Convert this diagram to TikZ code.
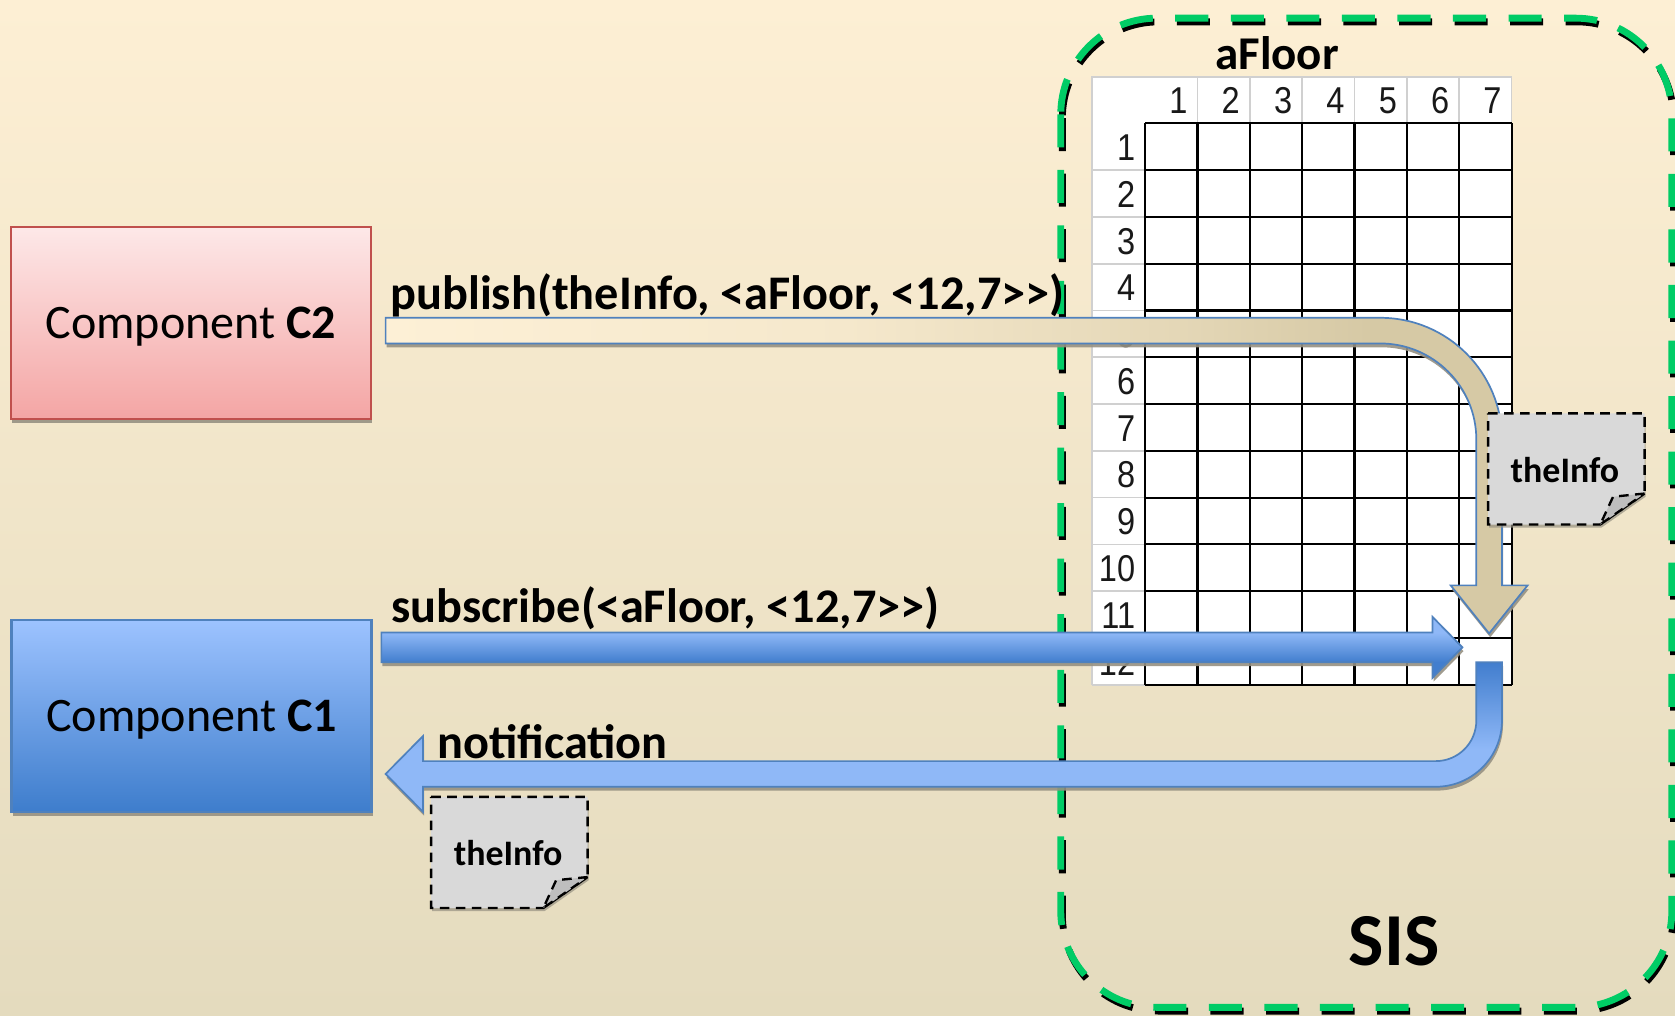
\documentclass[tikz,border=0pt]{standalone}
\usepackage{fontspec}
\setmainfont{Carlito}
\newfontfamily\gridfont[FakeStretch=0.87]{Liberation Sans}
\usetikzlibrary{shadows}

\definecolor{bgtop}{RGB}{253,239,212}
\definecolor{bgbot}{RGB}{228,219,190}
\definecolor{sisgreen}{RGB}{0,204,102}
\definecolor{redtop}{RGB}{253,232,232}
\definecolor{redbot}{RGB}{244,165,164}
\definecolor{redline}{RGB}{192,80,77}
\definecolor{bluetop}{RGB}{157,195,255}
\definecolor{bluebot}{RGB}{62,125,204}
\definecolor{blueline}{RGB}{79,129,189}
\definecolor{bluelight}{RGB}{143,184,247}
\definecolor{bluedark}{RGB}{66,126,206}
\definecolor{pubtan}{RGB}{214,201,165}
\definecolor{cream}{RGB}{253,240,214}
\definecolor{notegray}{RGB}{217,217,217}
\definecolor{flapgray}{RGB}{190,190,190}
\definecolor{hdrline}{RGB}{208,208,208}
\definecolor{shadowc}{RGB}{150,145,130}

% horizontal fade of the publish arrow: cream on the left, tan at the bend
\pgfdeclarehorizontalshading{pubfade}{100bp}{color(0bp)=(cream); color(25bp)=(cream); color(45bp)=(cream!80!pubtan); color(60bp)=(cream!35!pubtan); color(68bp)=(pubtan); color(100bp)=(pubtan)}
% vertical fade of the subscribe arrow (0bp = bottom)
\pgfdeclareverticalshading{subfade}{100bp}{color(0bp)=(bluedark); color(38bp)=(bluedark); color(62bp)=(bluelight); color(100bp)=(bluelight)}
% vertical fade of the notification arrow: dark stub on top, light band below
\pgfdeclareverticalshading{notiffade}{100bp}{color(0bp)=(bluelight); color(46bp)=(bluelight); color(75bp)=(bluedark); color(100bp)=(bluedark)}

\begin{document}
\begin{tikzpicture}[x=0.5pt,y=-0.5pt,
  comp/.style={draw, line width=1pt, minimum width=168.5pt, minimum height=90pt,
    inner sep=0pt, text height=14.6pt, text depth=0pt,
    font=\fontsize{22.5}{27}\selectfont,
    drop shadow={shadow xshift=0.5pt, shadow yshift=-1.8pt, fill=shadowc, opacity=0.9}},
  msg/.style={inner sep=0pt, font=\fontsize{22.6}{27}\selectfont\bfseries},
  notetxt/.style={inner sep=0pt, font=\fontsize{16.8}{20}\selectfont\bfseries},
  gridnum/.style={inner sep=0pt, text=black!90, font=\gridfont\fontsize{17.5}{20}\selectfont},
  blockarrow/.style={draw=blueline, line width=0.8pt,
    drop shadow={shadow xshift=0.5pt, shadow yshift=-1.8pt, fill=shadowc, opacity=0.9}},
  sisline/.style={line width=3.2pt, dash pattern=on 15.5pt off 10.5pt, rounded corners=45pt},
  notedash/.style={draw=black, line width=1.1pt, dash pattern=on 4.5pt off 3pt},
  infonote/.pic={
    \path[notedash, fill=notegray,
      drop shadow={shadow xshift=0.5pt, shadow yshift=-1.5pt, fill=shadowc, opacity=0.7}]
      (0,0) -- (146.5,0) -- (146.5,75) -- (105,104) -- (0,104) -- cycle;
    \path[notedash, fill=flapgray] (146.5,75) -- (117,78) -- (105,104) -- cycle;
    \node[notetxt, anchor=base] (-t) at (72,64.5) {theInfo};
  }]

% background
\shade[top color=bgtop, bottom color=bgbot] (0,0) rectangle (1568,951);
\useasboundingbox (0,0) rectangle (1568,951);

% SIS boundary: dark drop line under the green dashes
\draw[sisline, black, shift={(1.5,3.5)}] (993,17) rectangle (1565,943);
\draw[sisline, sisgreen] (993,17) rectangle (1565,943);

% aFloor grid
\fill[white] (1022,72) rectangle (1415,641);
\draw[hdrline, line width=0.8pt] (1022,641) -- (1022,72) -- (1415,72) -- (1415,115.5);
\foreach \k in {1,...,6}
  \draw[hdrline, line width=0.8pt] ({1072+49*\k},72) -- ({1072+49*\k},115.5);
\foreach \r in {1,...,12}
  \draw[hdrline, line width=0.8pt] (1022,{115.5+43.79*\r}) -- (1072,{115.5+43.79*\r});
\foreach \k in {0,...,7}
  \draw[line width=1pt] ({1072+49*\k},115.5) -- ({1072+49*\k},641);
\foreach \r in {0,...,12}
  \draw[line width=1pt] (1072,{115.5+43.79*\r}) -- (1415,{115.5+43.79*\r});
\foreach \k in {1,...,7}
  \node[gridnum, anchor=base east] (col\k) at ({1072+49*\k-9},106) {\k};
\foreach \r in {1,...,12}
  \node[gridnum, anchor=base east] (row\r) at (1063,{115.5+43.79*\r-9}) {\r};
\node[inner sep=0pt, font=\fontsize{22}{26}\selectfont\bfseries, anchor=base] (afloor) at (1195.5,65.5) {aFloor};

% components
\node[comp, top color=redtop, bottom color=redbot, draw=redline] (c2) at (178.8,302.4) {Component \textbf{C2}};
\node[comp, top color=bluetop, bottom color=bluebot, draw=blueline] (c1) at (179.3,670) {Component \textbf{C1}};

% message labels
\node[msg, anchor=base west] (pubtxt) at (365,289.5) {publish(theInfo, <{}aFloor, <{}12,7>{}>{})};
\node[msg, anchor=base west] (subtxt) at (366,583) {subscribe(<{}aFloor, <{}12,7>{}>{})};
\node[msg, anchor=base west] (notiftxt) at (409,710) {notification};

% publish: C2 -> cell <12,7>
\shadedraw[blockarrow, shading=pubfade]
  (361,297.5) -- (1292,297.5) .. controls (1355,297.5) and (1406,348.5) .. (1406,411.5)
  -- (1406,548) -- (1430,548) -- (1394,593) -- (1358,548) -- (1382,548)
  -- (1382,411.5) .. controls (1382,361.8) and (1341.7,321.5) .. (1292,321.5)
  -- (361,321.5) -- cycle;

% subscribe: C1 -> cell <12,7>
\shadedraw[blockarrow, shading=subfade]
  (357,592) -- (1341,592) -- (1341,577.5) -- (1369,606) -- (1341,634.5)
  -- (1341,620) -- (357,620) -- cycle;

% notification: cell <12,7> -> C1
\shadedraw[blockarrow, shading=notiffade]
  (1382,620) -- (1406,620) -- (1406,674.5)
  .. controls (1406,708.7) and (1378.2,736.5) .. (1344,736.5)
  -- (396,736.5) -- (396,760) -- (361,724.5) -- (396,689) -- (396,712.5)
  -- (1344,712.5) .. controls (1365,712.5) and (1382,695.5) .. (1382,674.5) -- cycle;

% payload notes
\pic (noteR) at (1393,387) {infonote};
\pic (noteL) at (403.6,746) {infonote};

% system label
\node[inner sep=0pt, font=\fontsize{35}{42}\selectfont\bfseries, anchor=base] (sis) at (1305,903.5) {SIS};

\end{tikzpicture}
\end{document}
